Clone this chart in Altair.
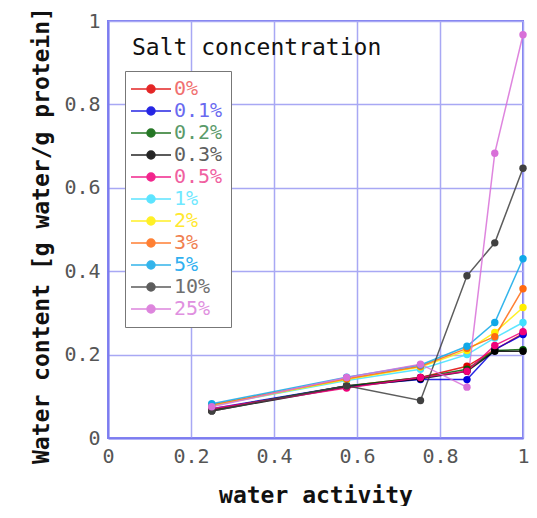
import altair as alt
import pandas as pd

# water activity values (x)
aw = [0.25, 0.575, 0.753, 0.865, 0.932, 1.0]

salts = ["0%", "0.1%", "0.2%", "0.3%", "0.5%", "1%", "2%", "3%", "5%", "10%", "25%"]

s_0 = [0.068, 0.125, 0.145, 0.172, 0.212, 0.250]
s_01 = [0.070, 0.125, 0.140, 0.140, 0.212, 0.248]
s_02 = [0.068, 0.125, 0.145, 0.165, 0.210, 0.212]
s_03 = [0.065, 0.122, 0.142, 0.160, 0.208, 0.208]
s_05 = [0.070, 0.120, 0.145, 0.160, 0.222, 0.255]
s_1 = [0.078, 0.138, 0.165, 0.200, 0.240, 0.277]
s_2 = [0.078, 0.140, 0.170, 0.210, 0.253, 0.313]
s_3 = [0.080, 0.142, 0.172, 0.215, 0.243, 0.358]
s_5 = [0.082, 0.146, 0.175, 0.220, 0.277, 0.430]
s_10 = [0.065, 0.125, 0.090, 0.389, 0.468, 0.647]
s_25 = [0.075, 0.145, 0.177, 0.122, 0.683, 0.967]

series = [s_0, s_01, s_02, s_03, s_05, s_1, s_2, s_3, s_5, s_10, s_25]

line_colors = ["#e00000", "#0000e0", "#006000", "#000000", "#f0007a", "#40e0ff",
               "#ffee00", "#ff6a10", "#10a8e8", "#404040", "#d870d8"]
label_colors = ["#f07070", "#6a6af0", "#5a9a6a", "#606060", "#f060a0", "#70e8ff",
                "#ffe830", "#f08050", "#30b0f0", "#707070", "#e090e0"]

x_ticks = [0, 0.2, 0.4, 0.6, 0.8, 1]
y_ticks = [0, 0.2, 0.4, 0.6, 0.8, 1]

legend_title = "Salt concentration"
x_title = "water activity"
y_title = "Water content [g water/g protein]"

rows = []
for name, vals in zip(salts, series):
    for a, v in zip(aw, vals):
        rows.append({"salt": name, "aw": a, "wc": v})
df = pd.DataFrame(rows)

grid_blue = "#a8a8f4"
mono = "DejaVu Sans Mono"

label_expr = "[" + ",".join("'%s'" % c for c in label_colors) + "][indexof([" + \
    ",".join("'%s'" % s for s in salts) + "], datum.label)]"

# symbol: a 40px line with a dot in the middle (unit = 8px)
sym_path = "M-1.5,0H3.5M0.5,0A0.5,0.5,0,1,1,1.5,0A0.5,0.5,0,1,1,0.5,0Z"

lines = alt.Chart(df).mark_line(
    strokeWidth=1.5, opacity=0.85,
    point=alt.OverlayMarkDef(filled=True, size=55, opacity=1)
).encode(
    x=alt.X("aw:Q", scale=alt.Scale(domain=[0, 1], nice=False),
            axis=alt.Axis(values=x_ticks, format="~g", title=x_title)),
    y=alt.Y("wc:Q", scale=alt.Scale(domain=[0, 1], nice=False),
            axis=alt.Axis(values=y_ticks, format="~g", title=y_title)),
    color=alt.Color("salt:N", scale=alt.Scale(domain=salts, range=line_colors),
                    legend=alt.Legend(
                        title=None, orient="none", legendX=17, legendY=50,
                        symbolType=sym_path,
                        symbolSize=256, symbolStrokeWidth=1.5,
                        labelFont=mono, labelFontSize=20, labelOffset=21,
                        labelColor=alt.ExprRef(label_expr),
                        rowPadding=2, padding=8, strokeColor="#777777",
                        fillColor="white")),
    order=alt.Order("aw:Q"),
)

title_txt = alt.Chart(pd.DataFrame({"t": [legend_title]})).mark_text(
    align="left", baseline="middle", fontSize=23, font=mono, color="#111111"
).encode(x=alt.value(24), y=alt.value(27), text="t:N")

chart = alt.layer(lines, title_txt).properties(
    width=415, height=417,
    padding={"left": 100, "top": 13, "right": 6, "bottom": 68},
    autosize="none",
).configure_view(
    stroke="#7c7cf0", strokeWidth=2
).configure_axis(
    gridColor=grid_blue, gridWidth=1.5, gridOpacity=1,
    domainColor="#7c7cf0", domainWidth=2,
    tickSize=0, labelFlush=False,
    labelFont=mono, labelFontSize=20, labelColor="#555555",
    titleFont=mono, titleFontSize=23, titleFontWeight="bold", titleColor="#111111",
).configure_axisX(
    labelPadding=8, titleY=57, titleBaseline="middle"
).configure_axisY(
    labelPadding=8, titleX=-67, titleY=214, titleBaseline="middle", titleAngle=-90
)

chart.save("out.html", embed_options={"renderer": "svg", "actions": False})
